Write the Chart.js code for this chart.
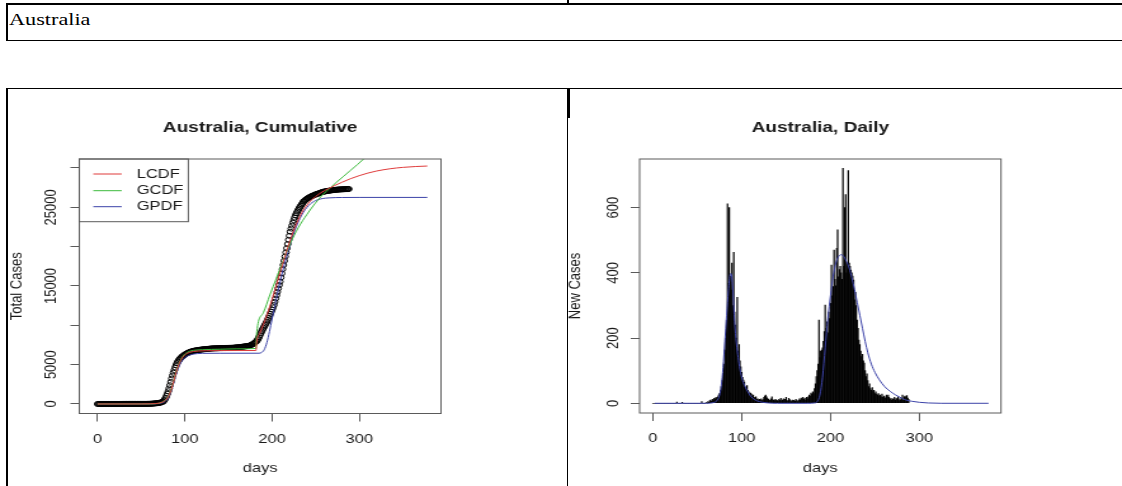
<!DOCTYPE html>
<html>
<head>
<meta charset="utf-8">
<title>Australia, Cumulative / Daily</title>
<script src="https://cdn.jsdelivr.net/npm/chart.js@4.4.1/dist/chart.umd.min.js"></script>
<style>
  html, body { margin: 0; padding: 0; background: #fff; }
  #page { position: relative; width: 1122px; height: 486px; overflow: hidden; background: #fff; }
  .rule { position: absolute; background: #000; z-index: 2; }
  .country {
    position: absolute; left: 9px; top: 9.6px; z-index: 2;
    font-family: 'Liberation Serif', 'Times New Roman', serif; font-size: 17.5px; line-height: 19px;
    color: #000; white-space: nowrap; transform: scaleX(1.27); transform-origin: 0 0;
  }
  .plot { position: absolute; top: 88px; height: 398px; transform-origin: 0 0; z-index: 1; }
  .plot canvas { display: block; }
</style>
</head>
<body>
<div id="page">
  <!-- table rules -->
  <div class="rule" style="left:6px; top:3.3px; width:1116px; height:1.4px"></div>
  <div class="rule" style="left:567px; top:0; width:2px; height:4px"></div>
  <div class="rule" style="left:6px; top:4px; width:2px; height:37px"></div>
  <div class="rule" style="left:6px; top:39.8px; width:1116px; height:1.4px"></div>
  <div class="country">Australia</div>
  <div class="rule" style="left:6px; top:87.6px; width:1116px; height:1.4px"></div>
  <div class="rule" style="left:6px; top:88px; width:2px; height:398px"></div>
  <div class="rule" style="left:566.5px; top:88px; width:3px; height:30px"></div>
  <div class="rule" style="left:567px; top:118px; width:1.3px; height:368px"></div>

  <div class="plot" id="cumWrap" style="left:0px"><canvas id="cumChart" width="446" height="398"></canvas></div>
  <div class="plot" id="dailyWrap" style="left:566px"><canvas id="dailyChart" width="438" height="398"></canvas></div>
</div>

<script>
// ---------------- data ----------------

var dayTicks = [0, 100, 200, 300];

// cumulative panel
var cumTicks = [0, 5000, 10000, 15000, 20000, 25000, 30000];
var cumTickLabels = [0, 5000, 15000, 25000];

// observed total cases, one value per day starting at day 0
var totalCases = [
    0, 0, 0, 0, 0, 0, 0, 0, 0, 0,                                   // 0
    0, 0, 0, 0, 0, 0, 0, 0, 0, 0,                                   // 10
    0, 0, 0, 0, 0, 4, 5, 5, 6, 9,                                   // 20
    9, 12, 12, 12, 13, 14, 15, 15, 15, 15,                          // 30
    15, 15, 15, 15, 15, 15, 15, 15, 15, 15,                         // 40
    15, 15, 15, 15, 15, 15, 15, 22, 22, 23,                         // 50
    30, 35, 40, 48, 60, 70, 80, 90, 100, 115,                       // 60
    130, 150, 180, 210, 250, 300, 420, 580, 780, 1020,              // 70
    1300, 1620, 1980, 2380, 2800, 3230, 3620, 3980, 4320, 4640,     // 80
    4930, 5180, 5390, 5560, 5700, 5820, 5930, 6030, 6120, 6200,     // 90
    6280, 6350, 6420, 6480, 6530, 6580, 6620, 6660, 6700, 6730,     // 100
    6760, 6780, 6800, 6820, 6840, 6860, 6875, 6890, 6905, 6920,     // 110
    6935, 6950, 6960, 6970, 6980, 6990, 7000, 7010, 7025, 7040,     // 120
    7050, 7060, 7065, 7070, 7075, 7078, 7080, 7085, 7090, 7095,     // 130
    7100, 7105, 7108, 7110, 7112, 7115, 7118, 7120, 7125, 7130,     // 140
    7135, 7138, 7140, 7144, 7147, 7150, 7160, 7170, 7180, 7190,     // 150
    7200, 7210, 7220, 7235, 7250, 7265, 7280, 7295, 7310, 7325,     // 160
    7340, 7355, 7370, 7390, 7410, 7450, 7500, 7560, 7630, 7700,     // 170
    7780, 7860, 7950, 8100, 8280, 8500, 8750, 8990, 9220, 9440,     // 180
    9650, 9860, 10060, 10260, 10460, 10700, 10950, 11200, 11460, 11730,   // 190
    12000, 12280, 12580, 12980, 13400, 13820, 14250, 14680, 15120, 15550, // 200
    16080, 16600, 17140, 17670, 18200, 18740, 19270, 19800, 20330, 20860, // 210
    21380, 21900, 22300, 22680, 23040, 23380, 23700, 23990, 24240, 24450, // 220
    24660, 24860, 25040, 25210, 25370, 25530, 25720, 25820, 25910, 26000, // 230
    26080, 26150, 26220, 26290, 26350, 26400, 26450, 26500, 26550, 26600, // 240
    26640, 26680, 26720, 26760, 26800, 26840, 26880, 26920, 26960, 26990, // 250
    27010, 27030, 27050, 27070, 27090, 27110, 27130, 27145, 27160, 27175, // 260
    27190, 27205, 27215, 27225, 27240, 27250, 27260, 27268, 27275, 27282, // 270
    27288, 27294, 27300, 27306, 27311, 27316, 27321, 27326, 27330         // 280
];

// fitted curves (red / green / blue)
var lcdfDays  = [0, 50, 60, 66, 70, 73, 76, 78, 80, 82, 84, 86, 88, 90, 92, 94, 96, 98, 100, 103,
                 106, 110, 116, 125, 140, 160, 181.5, 182.5, 186, 190, 194, 198, 202, 206, 210, 214,
                 218, 222, 226, 230, 234, 238, 242, 246, 250, 255, 260, 266, 272, 280, 290, 300,
                 310, 320, 335, 350, 365, 378];
var lcdfCases = [0, 5, 20, 50, 100, 180, 330, 500, 760, 1150, 1700, 2400, 3200, 4000, 4700, 5250, 5700, 6000, 6250, 6450,
                 6580, 6680, 6740, 6770, 6790, 6795, 6800, 8000, 9000, 10100, 11300, 12600, 14000, 15500, 17000, 18500,
                 19900, 21200, 22400, 23400, 24300, 25000, 25550, 26000, 26380, 26780, 27120, 27460, 27780, 28180, 28640, 29030,
                 29360, 29620, 29900, 30080, 30190, 30250];

var gcdfDays  = [0, 60, 66, 70, 73, 76, 78, 80, 82, 84, 86, 88, 90, 92, 94, 96, 98, 100, 103, 106,
                 110, 120, 140, 160, 181.5, 182.5, 190, 197.5, 205, 212, 220, 230, 240, 249, 258, 266,
                 274, 282, 290, 298, 305, 320];
var gcdfCases = [0, 5, 30, 90, 190, 360, 550, 820, 1200, 1750, 2450, 3250, 4050, 4750, 5300, 5750, 6100, 6350, 6580, 6720,
                 6820, 6900, 6960, 7010, 7060, 9200, 11600, 13860, 16000, 18000, 20210, 22400, 24100, 25450, 26600, 27400,
                 28200, 28950, 29700, 30450, 31150, 32500];

var gpdfDays  = [0, 60, 70, 75, 78, 80, 82, 84, 86, 88, 90, 92, 94, 96, 98, 100, 104, 108, 114, 120,
                 140, 185, 188, 191, 194, 197, 200, 204, 208, 212, 216, 220, 224, 228, 232, 236, 240, 244,
                 248, 252, 258, 265, 280, 300, 378];
var gpdfCases = [0, 10, 60, 180, 380, 620, 1000, 1550, 2250, 3000, 3750, 4400, 4950, 5350, 5650, 5880, 6150, 6300, 6400, 6440,
                 6450, 6455, 6550, 6900, 7800, 9200, 10800, 12900, 14900, 16800, 18500, 20000, 21400, 22600, 23600, 24400, 25000, 25450,
                 25750, 25950, 26120, 26200, 26250, 26260, 26260];

var legendLabels = ['LCDF', 'GCDF', 'GPDF'];

// daily panel
var dailyTicks = [0, 200, 400, 600];

// new cases per day starting at day 0
var newCases = [
    0, 0, 0, 0, 0, 0, 0, 0, 0, 0,                        // 0
    0, 0, 0, 0, 0, 0, 0, 0, 0, 0,                        // 10
    0, 0, 0, 0, 0, 0, 0, 4, 0, 0,                        // 20
    0, 0, 0, 3, 0, 0, 0, 0, 0, 0,                        // 30
    0, 0, 0, 0, 0, 0, 0, 0, 0, 0,                        // 40
    0, 0, 0, 0, 0, 5, 0, 0, 0, 0,                        // 50
    2, 0, 5, 3, 8, 10, 6, 12, 9, 15,                     // 60
    14, 18, 16, 20, 25, 30, 40, 51, 70, 93,              // 70
    120, 163, 200, 255, 612, 368, 600, 390, 347, 430,    // 80
    300, 463, 280, 240, 200, 325, 160, 180, 130, 112,    // 90
    95, 80, 71, 65, 50, 45, 54, 40, 35, 30,              // 100
    31, 28, 22, 25, 18, 15, 20, 12, 14, 10,              // 110
    12, 9, 14, 8, 11, 18, 22, 25, 20, 15,                // 120
    12, 10, 9, 14, 20, 11, 9, 8, 12, 10,                 // 130
    8, 7, 12, 9, 15, 7, 10, 14, 8, 12,                   // 140
    18, 9, 6, 15, 11, 8, 5, 10, 7, 9,                    // 150
    6, 12, 8, 5, 9, 14, 10, 16, 12, 18,                  // 160
    12, 15, 10, 18, 14, 20, 25, 22, 31, 28,              // 170
    35, 30, 45, 60, 82, 100, 120, 255, 140, 160,         // 180
    163, 170, 190, 220, 301, 230, 250, 216, 280, 260,    // 190
    307, 424, 330, 358, 470, 380, 360, 475, 532, 388,    // 200
    410, 420, 400, 380, 721, 420, 600, 640, 400, 430,    // 210
    714, 430, 420, 409, 400, 390, 378, 317, 340, 300,    // 220
    255, 230, 194, 180, 160, 143, 150, 130, 123, 100,    // 230
    82, 90, 70, 51, 60, 45, 40, 48, 36, 40,              // 240
    30, 35, 28, 25, 30, 22, 25, 20, 28, 18,              // 250
    22, 20, 15, 25, 20, 25, 18, 12, 15, 10,              // 260
    14, 12, 18, 10, 15, 12, 20, 8, 14, 10,               // 270
    15, 25, 10, 20, 22, 18, 24, 16, 12                   // 280
];

// fitted daily curve (blue)
var fitDays  = [2, 60, 68, 72, 75, 77, 79, 81, 83, 85, 87, 88, 89, 90, 92, 94, 96, 98, 101, 104,
                107, 110, 114, 120, 130, 140, 175, 182, 185, 188, 191, 194, 197, 200, 203, 206, 209, 212, 215, 218,
                221, 224, 227, 230, 233, 236, 239, 242, 246, 250, 255, 261, 267, 273, 280, 285, 292, 300, 310, 325, 378];
var fitCases = [0, 0, 2, 8, 25, 55, 110, 190, 270, 345, 395, 398, 385, 350, 250, 185, 140, 105, 70, 50,
                35, 22, 12, 5, 1, 0, 0, 1, 5, 25, 80, 170, 260, 330, 390, 430, 450, 456, 450, 435,
                415, 385, 350, 310, 270, 230, 190, 155, 120, 95, 72, 51, 37, 26, 16, 10, 6, 3, 1, 0, 0];

// ---------------- look ----------------

var FONT = "'Liberation Sans', Arial, Helvetica, sans-serif";
Chart.defaults.font.family = FONT;
Chart.defaults.color = '#1a1a1a';

var inkColor = '#1a1a1a';
var frameColor = '#5a5a5a';
var redLine = '#df3b3b';
var greenLine = '#3dbb3d';
var blueLine = '#3b42a8';

// the reference picture is stretched sideways, so each plot is drawn
// narrower and widened with a css transform
function stretch(wrapId, canvasId, pageWidth) {
    var wrap = document.getElementById(wrapId);
    var c = document.getElementById(canvasId);
    var sx = pageWidth / c.width;
    wrap.style.transform = 'scaleX(' + sx + ')';
    return sx;
}

function pairs(xs, ys) {
    return xs.map(function(x, i) { return { x: x, y: ys[i] }; });
}

function byDay(ys) {
    return ys.map(function(y, i) { return { x: i, y: y }; });
}

// box round the plot region + R-style vertical tick labels on the y axis
function frameAndLabels(labels, labelX) {
    return {
        id: 'frameAndLabels',
        afterDatasetsDraw: function(chart) {
            var a = chart.chartArea;
            var ctx = chart.ctx;
            var y = chart.scales.y;
            ctx.save();
            ctx.strokeStyle = frameColor;
            ctx.lineWidth = 1;
            ctx.strokeRect(a.left, a.top, a.right - a.left, a.bottom - a.top);
            ctx.fillStyle = inkColor;
            ctx.font = '13px ' + FONT;
            ctx.textAlign = 'center';
            ctx.textBaseline = 'middle';
            labels.forEach(function(v) {
                ctx.save();
                ctx.translate(labelX, y.getPixelForValue(v));
                ctx.rotate(-Math.PI / 2);
                ctx.fillText(String(v), 0, 0);
                ctx.restore();
            });
            ctx.restore();
        }
    };
}

// boxed legend in the top-left corner of the plot region
function boxLegend(labels, g) {
    return {
        id: 'boxLegend',
        afterDatasetsDraw: function(chart) {
            var a = chart.chartArea;
            var ctx = chart.ctx;
            ctx.save();
            ctx.strokeStyle = frameColor;
            ctx.lineWidth = 1;
            ctx.strokeRect(a.left, a.top, g.w, g.h);
            ctx.font = '13px ' + FONT;
            ctx.textAlign = 'left';
            ctx.textBaseline = 'middle';
            labels.forEach(function(lbl, i) {
                var ds = chart.data.datasets.filter(function(d) { return d.label === lbl; })[0];
                var y = a.top + g.rows[i];
                ctx.strokeStyle = ds.borderColor;
                ctx.beginPath();
                ctx.moveTo(a.left + g.lineFrom, y);
                ctx.lineTo(a.left + g.lineTo, y);
                ctx.stroke();
                ctx.fillStyle = inkColor;
                ctx.fillText(lbl, a.left + g.textX, y);
            });
            ctx.restore();
        }
    };
}

function xAxis(min, max, height) {
    return {
        type: 'linear',
        min: min,
        max: max,
        offset: false,
        afterBuildTicks: function(s) { s.ticks = dayTicks.map(function(v) { return { value: v }; }); },
        afterFit: function(s) { s.height = height; },
        grid: { drawOnChartArea: false, drawTicks: true, tickLength: 8, color: frameColor, offset: false },
        border: { display: false },
        ticks: { padding: 9.7, autoSkip: false, maxRotation: 0, minRotation: 0, color: inkColor, font: { size: 13 } },
        title: { display: true, text: 'days', color: inkColor, font: { size: 13 }, padding: { top: 0, bottom: 10.2 } }
    };
}

function yAxis(min, max, ticks, width, title, titlePad) {
    return {
        type: 'linear',
        min: min,
        max: max,
        afterBuildTicks: function(s) { s.ticks = ticks.map(function(v) { return { value: v }; }); },
        afterFit: function(s) { s.width = width; },
        grid: { drawOnChartArea: false, drawTicks: true, tickLength: 7, color: frameColor },
        border: { display: false },
        ticks: { display: false },
        title: { display: true, text: title, color: inkColor, font: { size: 13 }, padding: { top: titlePad, bottom: 0 } }
    };
}

function plotTitle(text) {
    return {
        display: true,
        fullSize: false,
        text: text,
        color: inkColor,
        font: { size: 15, weight: 'bold' },
        padding: { top: 31, bottom: 22 }
    };
}

// ---------------- cumulative panel ----------------
function initCumulativeChart() {
    var sx = stretch('cumWrap', 'cumChart', 566);
    var canvas = document.getElementById('cumChart');
    // page positions of the plot box, turned into canvas units
    var boxLeft = 79.3 / sx;
    var boxRight = 441 / sx;

    new Chart(canvas.getContext('2d'), {
        type: 'scatter',
        data: {
            datasets: [
                { label: 'LCDF', data: pairs(lcdfDays, lcdfCases), showLine: true, borderColor: redLine, borderWidth: 1,
                  pointRadius: 0, cubicInterpolationMode: 'monotone', order: 1 },
                { label: 'GCDF', data: pairs(gcdfDays, gcdfCases), showLine: true, borderColor: greenLine, borderWidth: 1,
                  pointRadius: 0, cubicInterpolationMode: 'monotone', order: 1 },
                { label: 'GPDF', data: pairs(gpdfDays, gpdfCases), showLine: true, borderColor: blueLine, borderWidth: 1,
                  pointRadius: 0, cubicInterpolationMode: 'monotone', order: 1 },
                { label: 'Total Cases', data: byDay(totalCases), showLine: false, pointRadius: 2.5,
                  pointBorderWidth: 1, pointBorderColor: '#000', pointBackgroundColor: 'rgba(0,0,0,0)', order: 2 }
            ]
        },
        options: {
            responsive: false,
            animation: false,
            events: [],
            layout: { padding: { left: 0, top: 0, right: canvas.width - boxRight, bottom: 0 } },
            plugins: {
                legend: { display: false },
                tooltip: { enabled: false },
                title: plotTitle('Australia, Cumulative')
            },
            scales: {
                x: xAxis(-21, 393.7, 398 - (413.5 - 88)),
                y: yAxis(-1208, 31144, cumTicks, boxLeft, 'Total Cases', 16.4 / sx - 7.8)
            }
        },
        plugins: [
            frameAndLabels(cumTickLabels, 51 / sx),
            boxLegend(legendLabels, {
                w: 109 / sx, h: 62.7,
                lineFrom: 14 / sx, lineTo: 42.4 / sx, textX: 57.4 / sx,
                rows: [15, 31.7, 47.7]
            })
        ]
    });
}

// ---------------- daily panel ----------------
function initDailyChart() {
    var sx = stretch('dailyWrap', 'dailyChart', 556);
    var canvas = document.getElementById('dailyChart');
    var boxLeft = (639.6 - 566) / sx;
    var boxRight = (1001 - 566) / sx;

    new Chart(canvas.getContext('2d'), {
        type: 'bar',
        data: {
            datasets: [
                { type: 'line', label: 'Fit', data: pairs(fitDays, fitCases), borderColor: blueLine, borderWidth: 1,
                  pointRadius: 0, fill: false, cubicInterpolationMode: 'monotone', order: 1 },
                { type: 'bar', label: 'New Cases', data: byDay(newCases), backgroundColor: '#000',
                  borderWidth: 0, barThickness: 0.55, grouped: false, order: 2 }
            ]
        },
        options: {
            responsive: false,
            animation: false,
            events: [],
            layout: { padding: { left: 0, top: 0, right: canvas.width - boxRight, bottom: 0 } },
            plugins: {
                legend: { display: false },
                tooltip: { enabled: false },
                title: plotTitle('Australia, Daily')
            },
            scales: {
                x: xAxis(-15, 392, 398 - (413 - 88)),
                y: yAxis(-29.8, 749.4, dailyTicks, boxLeft, 'New Cases', 0)
            }
        },
        plugins: [frameAndLabels(dailyTicks, (613 - 566) / sx)]
    });
}

initCumulativeChart();
initDailyChart();
</script>
</body>
</html>
